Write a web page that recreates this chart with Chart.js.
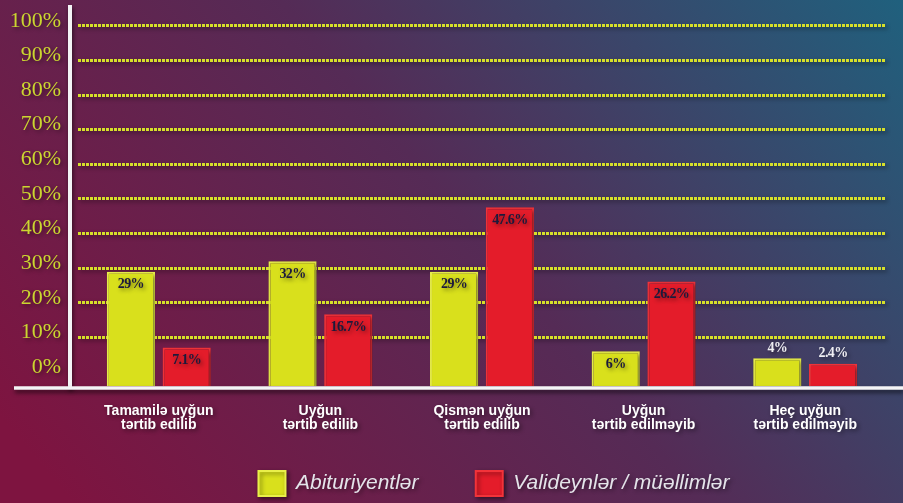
<!DOCTYPE html>
<html lang="az">
<head>
    <meta charset="UTF-8">
    <title>Abituriyentlər və valideynlər / müəllimlər</title>
    <script src="https://cdn.jsdelivr.net/npm/chart.js"></script>
    <style>
        html, body {
            margin: 0;
            padding: 0;
            background: #4f2c57;
        }

        #wrap {
            width: 903px;
            height: 503px;
            position: relative;
        }
    </style>
</head>
<body>
    <div id="wrap">
        <canvas id="surveyChart"></canvas>
    </div>

    <script>
        // Categories (two-line labels)
        var categories = [
            ['Tamamilə uyğun', 'tərtib edilib'],
            ['Uyğun', 'tərtib edilib'],
            ['Qismən uyğun', 'tərtib edilib'],
            ['Uyğun', 'tərtib edilməyib'],
            ['Heç uyğun', 'tərtib edilməyib']
        ];

        // Series values (%)
        var abituriyentler = [29, 32, 29, 6, 4];
        var valideynler = [7.1, 16.7, 47.6, 26.2, 2.4];

        // Tick values on the y axis
        var yTicks = [0, 10, 20, 30, 40, 50, 60, 70, 80, 90, 100];

        var yMin = -4;
        var yMax = 106;

        // Background gradient, then a soft shadow for everything drawn after it
        var backdrop = {
            id: 'backdrop',
            afterLayout: function(chart) {
                // legend sits a bit right of the plot centre in the original
                chart.legend.left += 12;
                chart.legend.right += 12;
            },
            beforeDraw: function(chart) {
                var ctx = chart.ctx;
                var g = ctx.createLinearGradient(120, 560, 860, -60);
                g.addColorStop(0, '#7e1440');
                g.addColorStop(0.5, '#552b56');
                g.addColorStop(1, '#1f617e');
                ctx.save();
                ctx.fillStyle = g;
                ctx.fillRect(0, 0, chart.width, chart.height);
                ctx.restore();
                ctx.shadowColor = 'rgba(0, 0, 0, 0.45)';
                ctx.shadowBlur = 4;
                ctx.shadowOffsetX = 2;
                ctx.shadowOffsetY = 2;
            },
            afterDraw: function(chart) {
                var ctx = chart.ctx;
                ctx.shadowColor = 'transparent';
                ctx.shadowBlur = 0;
                ctx.shadowOffsetX = 0;
                ctx.shadowOffsetY = 0;
            }
        };

        // White axis lines (x line runs past the y axis like in the original)
        var axisLines = {
            id: 'axisLines',
            afterDatasetsDraw: function(chart) {
                var ctx = chart.ctx;
                var area = chart.chartArea;
                var yBottom = chart.scales.y.getPixelForValue(yMin);
                ctx.save();
                ctx.shadowColor = 'rgba(0, 0, 0, 0.6)';
                ctx.shadowBlur = 4;
                ctx.shadowOffsetX = 1;
                ctx.shadowOffsetY = 3;
                ctx.strokeStyle = '#f4f4f6';
                ctx.lineWidth = 4;
                ctx.beginPath();
                ctx.moveTo(area.left - 8, area.top);
                ctx.lineTo(area.left - 8, yBottom + 2);
                ctx.stroke();
                ctx.lineWidth = 3.5;
                ctx.beginPath();
                ctx.moveTo(14, yBottom + 2);
                ctx.lineTo(chart.width, yBottom + 2);
                ctx.stroke();
                ctx.restore();
            }
        };

        // Percentage labels on the bars
        var barLabels = {
            id: 'barLabels',
            afterDatasetsDraw: function(chart) {
                var ctx = chart.ctx;
                ctx.save();
                ctx.font = 'bold 14px "Liberation Serif", serif';
                ctx.letterSpacing = '-0.6px';
                ctx.textAlign = 'center';
                ctx.textBaseline = 'middle';
                chart.data.datasets.forEach(function(ds, i) {
                    var meta = chart.getDatasetMeta(i);
                    meta.data.forEach(function(bar, j) {
                        var v = ds.data[j];
                        var txt = v + '%';
                        if (v < 5) {
                            ctx.fillStyle = '#eeeef2';
                            ctx.fillText(txt, bar.x, bar.y - 10);
                        } else {
                            ctx.fillStyle = '#1c1a3c';
                            ctx.fillText(txt, bar.x, bar.y + 13);
                        }
                    });
                });
                ctx.restore();
            }
        };

        var data = {
            labels: categories,
            datasets: [{
                label: 'Abituriyentlər',
                data: abituriyentler,
                backgroundColor: '#d9e01c',
                borderColor: '#e9ef4a',
                borderWidth: 2,
                base: yMin
            }, {
                label: 'Valideynlər / müəllimlər',
                data: valideynler,
                backgroundColor: '#e41c2a',
                borderColor: '#f2333a',
                borderWidth: 2,
                base: yMin
            }]
        };

        var config = {
            type: 'bar',
            data: data,
            options: {
                responsive: false,
                animation: false,
                devicePixelRatio: 1,
                categoryPercentage: 0.69,
                barPercentage: 0.865,
                layout: {
                    padding: { top: 5, right: 17, bottom: -3, left: 0 }
                },
                scales: {
                    x: {
                        grid: { display: false },
                        border: { display: false },
                        ticks: {
                            color: '#ffffff',
                            padding: 10,
                            maxRotation: 0,
                            autoSkip: false,
                            font: { family: '"Liberation Sans", Arial, sans-serif', size: 14, weight: 'bold', lineHeight: 1.0 }
                        },
                        afterFit: function(scale) {
                            scale.height = 53;
                        }
                    },
                    y: {
                        min: yMin,
                        max: yMax,
                        afterBuildTicks: function(scale) {
                            scale.ticks = yTicks.map(function(v) { return { value: v }; });
                        },
                        afterFit: function(scale) {
                            scale.width = 78;
                            scale.paddingTop = 0;
                            scale.paddingBottom = 0;
                        },
                        grid: {
                            drawTicks: false,
                            lineWidth: 3,
                            color: function(ctx) {
                                return ctx.tick && ctx.tick.value > 0 ? '#d6e02a' : 'rgba(0,0,0,0)';
                            }
                        },
                        border: { display: false, dash: [3, 1] },
                        ticks: {
                            color: '#cbd630',
                            padding: 17,
                            labelOffset: -5,
                            font: { family: '"Liberation Serif", "Times New Roman", serif', size: 22 },
                            callback: function(value) {
                                return value + '%';
                            }
                        }
                    }
                },
                plugins: {
                    legend: {
                        position: 'bottom',
                        fullSize: false,
                        labels: {
                            color: '#e4e4ea',
                            boxWidth: 27,
                            boxHeight: 25,
                            padding: 32,
                            font: { family: '"Liberation Sans", Arial, sans-serif', size: 21, style: 'italic' },
                            generateLabels: function(chart) {
                                var items = Chart.defaults.plugins.legend.labels.generateLabels(chart);
                                // a little extra room after the first entry
                                items[0].text = items[0].text + '\u2003\u2009';
                                return items;
                            }
                        }
                    },
                    tooltip: { enabled: false }
                }
            },
            plugins: [backdrop, axisLines, barLabels]
        };

        var canvas = document.getElementById('surveyChart');
        canvas.width = 903;
        canvas.height = 503;
        window.myChart = new Chart(canvas.getContext('2d'), config);
    </script>
</body>
</html>
